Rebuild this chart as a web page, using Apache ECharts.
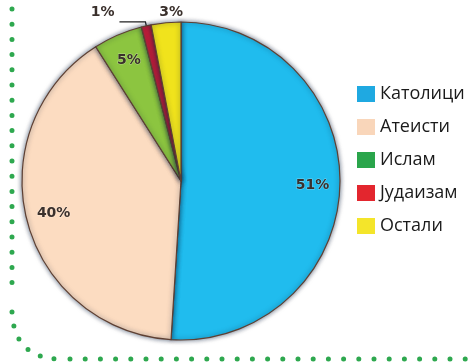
<!DOCTYPE html>
<html>
<head>
<meta charset="utf-8">
<script src="https://cdn.jsdelivr.net/npm/echarts@6/dist/echarts.min.js"></script>
<style>
  html, body { margin: 0; padding: 0; background: #ffffff; }
  #chart { width: 475px; height: 363px; }
</style>
</head>
<body>
<div id="chart"></div>
<script>
// Religious structure, percent
const categories = ['Католици', 'Атеисти', 'Ислам', 'Јудаизам', 'Остали'];
const shares = [51, 40, 5, 1, 3];
const sliceColors = ['#20bcee', '#fcdcc1', '#8cc540', '#c41e3a', '#f0e31c'];
const legendColors = ['#1fa9e1', '#f9d6ba', '#2aa54b', '#e3262e', '#f4e52a'];

const pieCenter = [181, 181];
const pieRadius = 159;

const labelFont = {
  fontFamily: 'DejaVu Sans',
  fontWeight: 'bold',
  fontSize: 14,
  color: '#3a302c',
  textBorderColor: 'rgba(255,255,255,0.35)',
  textBorderWidth: 1
};

// inner labels sit on a transparent ring so they land near the rim
const innerLabeled = [true, true, true, false, false];

const dotStyle = {
  fill: 'none',
  stroke: '#2ea84f',
  lineWidth: 5,
  lineCap: 'round',
  lineDash: [0, 15.2]
};

const chart = echarts.init(document.getElementById('chart'), null, { renderer: 'canvas' });

chart.setOption({
  animation: false,
  legend: {
    orient: 'vertical',
    left: 357,
    top: 85,
    padding: 0,
    icon: 'rect',
    itemWidth: 18,
    itemHeight: 16,
    itemGap: 15,
    itemStyle: { borderWidth: 0, shadowBlur: 0 },
    textStyle: { fontFamily: 'Open Sans', fontSize: 18, lineHeight: 16, color: '#1a1a1a' },
    data: categories.map((name, i) => ({ name, itemStyle: { color: legendColors[i], borderWidth: 0 } }))
  },
  graphic: [
    { type: 'line', silent: true, shape: { x1: 12, y1: 9, x2: 12, y2: 297 }, style: dotStyle },
    { type: 'bezierCurve', silent: true, shape: { x1: 12, y1: 312, cpx1: 14, cpy1: 356, x2: 56, y2: 359 }, style: Object.assign({}, dotStyle, { lineDash: [0, 14] }) },
    { type: 'line', silent: true, shape: { x1: 70, y1: 359, x2: 480, y2: 359 }, style: dotStyle }
  ],
  series: [
    {
      type: 'pie',
      name: 'main',
      center: pieCenter,
      radius: [0, pieRadius],
      startAngle: 90,
      clockwise: true,
      avoidLabelOverlap: false,
      itemStyle: {
        borderColor: '#5e4033',
        borderWidth: 1.2,
        shadowColor: 'rgba(10,30,60,0.6)',
        shadowBlur: 5
      },
      label: Object.assign({ show: true, position: 'outside', formatter: '{c}%', alignTo: 'none' }, labelFont),
      labelLine: { show: true, length: 4, length2: 26, lineStyle: { color: '#222', width: 1.3 } },
      labelLayout: function (p) {
        if (p.dataIndex === 4) return { dx: 22, dy: -10 };
        return {};
      },
      data: categories.map((name, i) => ({
        name,
        value: shares[i],
        itemStyle: { color: sliceColors[i] },
        // the 1% label sits above its leader line: an empty second line lifts it
        label: i === 3
          ? { show: true, formatter: '{c}%\n\u00a0', lineHeight: 20 }
          : { show: !innerLabeled[i] },
        labelLine: i === 3 ? { show: true } : { show: false, length: 0, length2: 0 }
      }))
    },
    {
      type: 'pie',
      name: 'labels',
      silent: true,
      center: pieCenter,
      radius: [98, pieRadius],
      startAngle: 90,
      clockwise: true,
      itemStyle: { color: 'rgba(0,0,0,0)', borderWidth: 0 },
      label: Object.assign({ show: true, position: 'inside', formatter: '{c}%' }, labelFont),
      labelLine: { show: false },
      data: categories.map((name, i) => ({
        name,
        value: shares[i],
        label: { show: innerLabeled[i] }
      }))
    }
  ]
});
</script>
</body>
</html>
